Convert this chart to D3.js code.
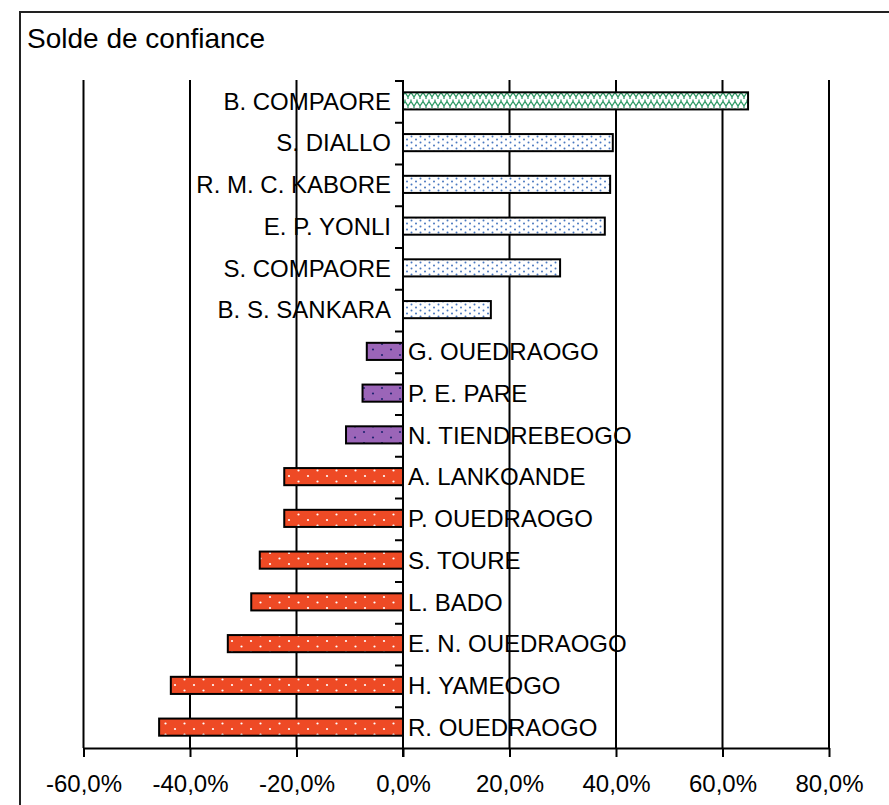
<!DOCTYPE html>
<html>
<head>
<meta charset="utf-8">
<script src="https://cdn.jsdelivr.net/npm/d3@7"></script>
<style>
  html, body { margin: 0; padding: 0; background: #fff; }
  svg { display: block; font-family: "Liberation Sans", Arial, sans-serif; }
</style>
</head>
<body>
<svg id="chart" width="889" height="805"></svg>
<script>
// ---- data ----
const title = "Solde de confiance";
const names = [
  "B. COMPAORE", "S. DIALLO", "R. M. C. KABORE", "E. P. YONLI", "S. COMPAORE",
  "B. S. SANKARA", "G. OUEDRAOGO", "P. E. PARE", "N. TIENDREBEOGO", "A. LANKOANDE",
  "P. OUEDRAOGO", "S. TOURE", "L. BADO", "E. N. OUEDRAOGO", "H. YAMEOGO", "R. OUEDRAOGO"
];
const values = [
  0.648, 0.394, 0.389, 0.379, 0.295,
  0.165, -0.068, -0.076, -0.107, -0.223,
  -0.223, -0.269, -0.285, -0.329, -0.436, -0.458
];
const groups = [
  "leader", "positive", "positive", "positive", "positive",
  "positive", "mild", "mild", "mild", "negative",
  "negative", "negative", "negative", "negative", "negative", "negative"
];
const xTicks = [-0.6, -0.4, -0.2, 0, 0.2, 0.4, 0.6, 0.8];
const xTickLabels = ["-60,0%", "-40,0%", "-20,0%", "0,0%", "20,0%", "40,0%", "60,0%", "80,0%"];

// ---- layout ----
const svg = d3.select("#chart");
const plot = { left: 83.5, right: 829, top: 80, bottom: 748 };

const x = d3.scaleLinear().domain([-0.6, 0.8]).range([plot.left, plot.right]);
const y = d3.scaleBand().domain(names).range([plot.top, plot.bottom]).paddingInner(0.59).paddingOuter(0.295);
const yb = d3.scaleBand().domain(names).range([plot.top, plot.bottom]);

// patterns
const defs = svg.append("defs");
const pLeader = defs.append("pattern").attr("id", "pat-leader")
  .attr("patternUnits", "userSpaceOnUse").attr("width", 12).attr("height", 9);
pLeader.append("rect").attr("width", 12).attr("height", 9).attr("fill", "#fff");
pLeader.append("path")
  .attr("d", "M0,7 L3,2.5 L6,7 L9,2.5 L12,7 M3,2.5 L3,0.5 M9,2.5 L9,0.5 M6,7 L6,9 M0,7 L0,9 M12,7 L12,9")
  .attr("fill", "none").attr("stroke", "#2f9a66").attr("stroke-width", 1.3);

const pPos = defs.append("pattern").attr("id", "pat-positive")
  .attr("patternUnits", "userSpaceOnUse").attr("width", 9).attr("height", 6);
pPos.append("rect").attr("width", 9).attr("height", 6).attr("fill", "#fff");
pPos.append("circle").attr("cx", 2).attr("cy", 1.5).attr("r", 1).attr("fill", "#4a78c0");
pPos.append("circle").attr("cx", 6.5).attr("cy", 4.5).attr("r", 1).attr("fill", "#4a78c0");

const pMild = defs.append("pattern").attr("id", "pat-mild")
  .attr("patternUnits", "userSpaceOnUse").attr("width", 18).attr("height", 11);
pMild.append("rect").attr("width", 18).attr("height", 11).attr("fill", "#9b65b8");
pMild.append("circle").attr("cx", 4).attr("cy", 3).attr("r", 1.1).attr("fill", "#1f2370");
pMild.append("circle").attr("cx", 13).attr("cy", 8.5).attr("r", 1.1).attr("fill", "#1f2370");

const pNeg = defs.append("pattern").attr("id", "pat-negative")
  .attr("patternUnits", "userSpaceOnUse").attr("width", 19).attr("height", 11);
pNeg.append("rect").attr("width", 19).attr("height", 11).attr("fill", "#ee4a25");
pNeg.append("circle").attr("cx", 4).attr("cy", 3).attr("r", 1.1).attr("fill", "#fff");
pNeg.append("circle").attr("cx", 13.5).attr("cy", 8.5).attr("r", 1.1).attr("fill", "#fff");

// outer frame
svg.append("rect").attr("x", 20).attr("y", 12).attr("width", 900).attr("height", 820)
  .attr("fill", "none").attr("stroke", "#222").attr("stroke-width", 2);

// title
svg.append("text").attr("x", 27).attr("y", 48).attr("font-size", 28).attr("fill", "#000").text(title);

// gridlines
svg.append("g").selectAll("line").data(xTicks.filter(d => d !== 0)).join("line")
  .attr("x1", d => x(d)).attr("x2", d => x(d))
  .attr("y1", plot.top).attr("y2", plot.bottom)
  .attr("stroke", "#000").attr("stroke-width", 2);

// x axis
const xAxis = d3.axisBottom(x).tickValues(xTicks)
  .tickFormat((d, i) => xTickLabels[i]).tickSize(9).tickSizeOuter(0).tickPadding(18);
const gx = svg.append("g").attr("transform", `translate(0,${plot.bottom})`).call(xAxis);
gx.select(".domain").attr("stroke", "#000").attr("stroke-width", 2);
gx.selectAll(".tick line").attr("stroke", "#000").attr("stroke-width", 2);
gx.selectAll(".tick text").attr("font-size", 24).attr("fill", "#000")
  .attr("font-family", "'Liberation Sans', Arial, sans-serif");

// bars
svg.append("g").selectAll("rect").data(names).join("rect")
  .attr("x", (d, i) => x(Math.min(0, values[i])))
  .attr("y", d => y(d))
  .attr("width", (d, i) => Math.abs(x(values[i]) - x(0)))
  .attr("height", y.bandwidth())
  .attr("fill", (d, i) => `url(#pat-${groups[i]})`)
  .attr("stroke", "#000").attr("stroke-width", 2);

// y axis (at zero) with category boundary ticks on the left
const yAxisG = svg.append("g");
yAxisG.append("line").attr("x1", x(0)).attr("x2", x(0))
  .attr("y1", plot.top).attr("y2", plot.bottom + 9)
  .attr("stroke", "#000").attr("stroke-width", 2);
yAxisG.selectAll("line.tk").data(names).join("line").attr("class", "tk")
  .attr("x1", x(0) - 8).attr("x2", x(0))
  .attr("y1", d => yb(d) + 1).attr("y2", d => yb(d) + 1)
  .attr("stroke", "#000").attr("stroke-width", 2);

// category labels
svg.append("g").selectAll("text").data(names).join("text")
  .attr("x", (d, i) => values[i] >= 0 ? x(0) - 12 : x(0) + 5)
  .attr("y", d => y(d) + y.bandwidth() / 2)
  .attr("dy", "0.36em")
  .attr("text-anchor", (d, i) => values[i] >= 0 ? "end" : "start")
  .attr("font-size", 24).attr("fill", "#000")
  .text(d => d);
</script>
</body>
</html>
